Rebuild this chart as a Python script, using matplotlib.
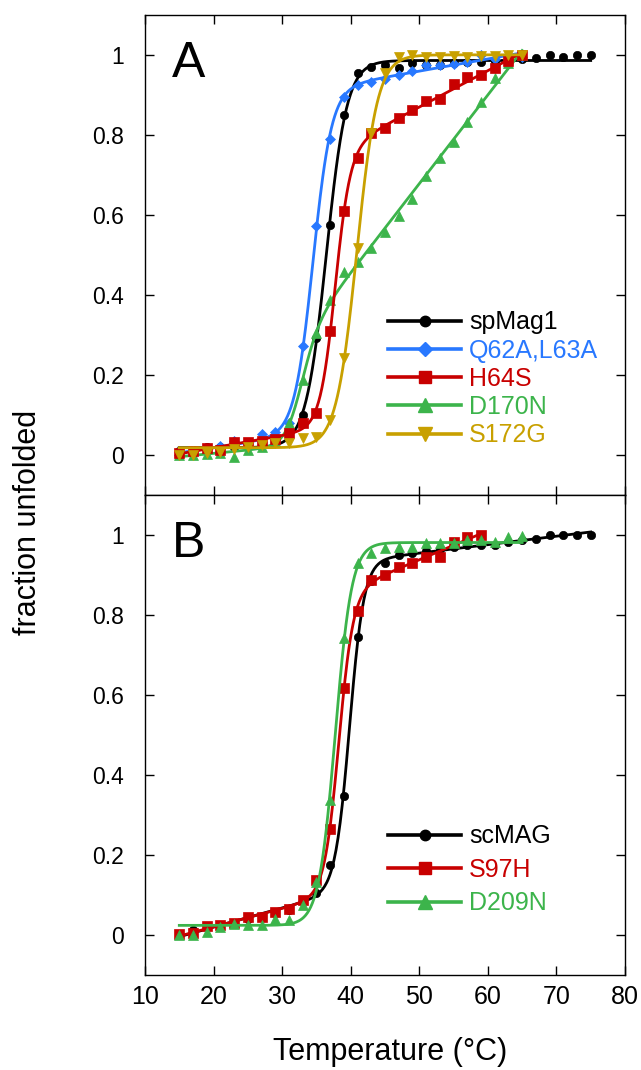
import numpy as np
import matplotlib
matplotlib.use('Agg')
import matplotlib.pyplot as plt
from matplotlib.lines import Line2D

plt.rcParams['font.family'] = ['Liberation Sans', 'DejaVu Sans']

# ---- panel A data (temperature in C, fraction unfolded)
temps_a_wt = [15, 17, 19, 21, 23, 25, 27, 29, 31, 33, 35, 37, 39, 41, 43, 45,
              47, 49, 51, 53, 55, 57, 59, 61, 63, 65, 67, 69, 71, 73, 75]
temps_a_mut = [15, 17, 19, 21, 23, 25, 27, 29, 31, 33, 35, 37, 39, 41, 43, 45,
               47, 49, 51, 53, 55, 57, 59, 61, 63, 65]

spmag1 = [0.01, 0.012, 0.02, 0.02, 0.02, 0.022, 0.025, 0.03, 0.045, 0.10, 0.292,
          0.575, 0.85, 0.954, 0.971, 0.975, 0.967, 0.979, 0.975, 0.975, 0.979,
          0.983, 0.983, 0.985, 0.985, 0.99, 0.992, 1.0, 0.996, 1.0, 1.0]
q62a_l63a = [0.0, 0.01, 0.014, 0.022, 0.036, 0.03, 0.053, 0.057, 0.08, 0.2725,
             0.573, 0.79, 0.894, 0.925, 0.933, 0.94, 0.95, 0.961, 0.975, 0.975,
             0.978, 0.982, 1.0, 0.99, 0.99, 0.995]
h64s = [0.005, 0.01, 0.018, 0.012, 0.032, 0.032, 0.035, 0.04, 0.056, 0.08, 0.104,
        0.31, 0.611, 0.743, 0.804, 0.818, 0.842, 0.8625, 0.885, 0.889, 0.927,
        0.946, 0.95, 0.967, 0.985, 1.0]
d170n = [0.0, 0.0, 0.003, 0.005, -0.004, 0.012, 0.02, 0.035, 0.079, 0.1875, 0.304,
         0.3875, 0.458, 0.483, 0.517, 0.558, 0.597, 0.64, 0.6975, 0.742, 0.783,
         0.833, 0.883, 0.942, 0.979, 1.0]
s172g = [0.0, 0.0, 0.005, 0.008, 0.015, 0.02, 0.026, 0.03, 0.03, 0.043, 0.045,
         0.0875, 0.242, 0.517, 0.804, 0.954, 0.996, 1.0, 0.996, 0.995, 0.997,
         0.995, 0.997, 0.997, 1.0, 1.0]

# ---- panel B data
temps_b_wt = temps_a_wt
temps_b_s97h = [15, 17, 19, 21, 23, 25, 27, 29, 31, 33, 35, 37, 39, 41, 43, 45,
                47, 49, 51, 53, 55, 57, 59]
temps_b_d209n = temps_a_mut

scmag = [0.0, 0.0125, 0.02, 0.022, 0.028, 0.04, 0.045, 0.055, 0.062, 0.085, 0.106,
         0.175, 0.3475, 0.744, 0.885, 0.931, 0.95, 0.955, 0.96, 0.965, 0.971,
         0.975, 0.975, 0.975, 0.983, 0.988, 0.989, 1.0, 1.0, 1.0, 1.0]
s97h = [0.002, 0.004, 0.0225, 0.024, 0.029, 0.044, 0.046, 0.058, 0.064, 0.0875,
        0.1375, 0.265, 0.618, 0.811, 0.8875, 0.9, 0.921, 0.929, 0.944, 0.944,
        0.983, 0.996, 1.0]
d209n = [0.0, 0.0, 0.007, 0.02, 0.027, 0.024, 0.024, 0.04, 0.0375, 0.075, 0.133,
         0.3375, 0.742, 0.929, 0.954, 0.967, 0.97, 0.97, 0.979, 0.979, 0.98,
         0.9875, 0.9875, 0.983, 0.994, 0.998]

labels_a = ['spMag1', 'Q62A,L63A', 'H64S', 'D170N', 'S172G']
labels_b = ['scMAG', 'S97H', 'D209N']

BLACK = '#000000'
BLUE = '#2878ff'
RED = '#c80000'
GREEN = '#3cb44b'
GOLD = '#c8a000'


def fit_curve(t, y, sloped):
    # two-state melt: grid over Tm and width, baselines by least squares
    t = np.asarray(t, float)
    y = np.asarray(y, float)
    tm, w = np.meshgrid(np.arange(28, 46, 0.05), np.arange(0.3, 3.5, 0.05), indexing='ij')
    tm, w = tm.ravel(), w.ravel()

    s = 1.0 / (1.0 + np.exp(-(t[None, :] - tm[:, None]) / w[:, None]))
    cols = [1 - s, s]
    if sloped:
        cols += [(t - 40) * (1 - s), (t - 40) * s]
    X = np.stack(cols, axis=-1)
    k = X.shape[-1]
    xtx = np.einsum('gnk,gnl->gkl', X, X) + 1e-9 * np.eye(k)
    xty = np.einsum('gnk,n->gk', X, y)
    coef = np.linalg.solve(xtx, xty[..., None])[..., 0]
    sse = ((y - np.einsum('gnk,gk->gn', X, coef)) ** 2).sum(axis=1)
    i = np.argmin(sse)

    tt = np.linspace(t.min(), t.max(), 400)
    s = 1.0 / (1.0 + np.exp(-(tt - tm[i]) / w[i]))
    c = coef[i]
    pre = c[0] + (c[2] * (tt - 40) if sloped else 0)
    post = c[1] + (c[3] * (tt - 40) if sloped else 0)
    return tt, pre * (1 - s) + post * s


series_a = [
    (temps_a_wt, spmag1, BLACK, 'o', 6.0, False),
    (temps_a_mut, q62a_l63a, BLUE, 'D', 5.5, True),
    (temps_a_mut, d170n, GREEN, '^', 7.5, True),
    (temps_a_mut, h64s, RED, 's', 7.0, True),
    (temps_a_mut, s172g, GOLD, 'v', 7.5, False),
]
legend_a_order = [0, 1, 3, 2, 4]

series_b = [
    (temps_b_wt, scmag, BLACK, 'o', 6.0, True),
    (temps_b_s97h, s97h, RED, 's', 7.0, True),
    (temps_b_d209n, d209n, GREEN, '^', 7.5, False),
]

fig = plt.figure(figsize=(6.41, 10.70), dpi=100)
ax_a = fig.add_axes([145 / 641, 1 - 495 / 1070, 480 / 641, 480 / 1070])
ax_b = fig.add_axes([145 / 641, 1 - 975 / 1070, 480 / 641, 480 / 1070])


def draw_panel(ax, series, labels, order, letter, leg_y, spacing):
    for z, (t, y, col, mk, ms, sloped) in enumerate(series):
        tt, yy = fit_curve(t, y, sloped)
        ax.plot(tt, yy, color=col, lw=2.0, zorder=3 + 2 * z)
        ax.plot(t, y, ls='none', marker=mk, ms=ms, color=col, mec=col, mew=0.5,
                zorder=4 + 2 * z)
    handles = []
    for j in order:
        t, y, col, mk, ms, sloped = series[j]
        handles.append(Line2D([], [], color=col, lw=2.6, marker=mk, ms=ms * 1.25, mec=col))
    leg = ax.legend(handles, labels, loc='center left', bbox_to_anchor=(0.507, leg_y),
                    frameon=False, fontsize=18, handlelength=2.92, handletextpad=0.3,
                    labelspacing=spacing, borderpad=0, borderaxespad=0,
                    labelcolor='linecolor')
    leg.set_zorder(20)
    ax.text(0.0556, 0.870, letter, transform=ax.transAxes, fontsize=36,
            ha='left', va='baseline')
    ax.set_xlim(10, 80)
    ax.set_ylim(-0.1, 1.1)
    ax.set_xticks([10, 20, 30, 40, 50, 60, 70, 80])
    ax.set_yticks([0, 0.2, 0.4, 0.6, 0.8, 1.0])
    ax.set_yticklabels(['0', '0.2', '0.4', '0.6', '0.8', '1'])
    ax.tick_params(direction='in', top=True, right=True, length=6.5, width=1.0)
    ax.tick_params(axis='y', labelsize=16.5, pad=15)
    ax.tick_params(axis='x', labelsize=18, pad=7)
    for sp in ax.spines.values():
        sp.set_linewidth(1.0)


draw_panel(ax_a, series_a, labels_a, legend_a_order, 'A', 0.2417, 0.17)
draw_panel(ax_b, series_b, labels_b, [0, 1, 2], 'B', 0.219, 0.38)
ax_a.tick_params(axis='x', labelbottom=False)

fig.text(28.5 / 641, 1 - 522 / 1070, 'fraction unfolded', rotation=90,
         ha='center', va='center', fontsize=22)
fig.text(390 / 641, 1 - 1060 / 1070, 'Temperature (\u00b0C)', ha='center',
         va='baseline', fontsize=22)

fig.savefig('out.png', dpi=100)
